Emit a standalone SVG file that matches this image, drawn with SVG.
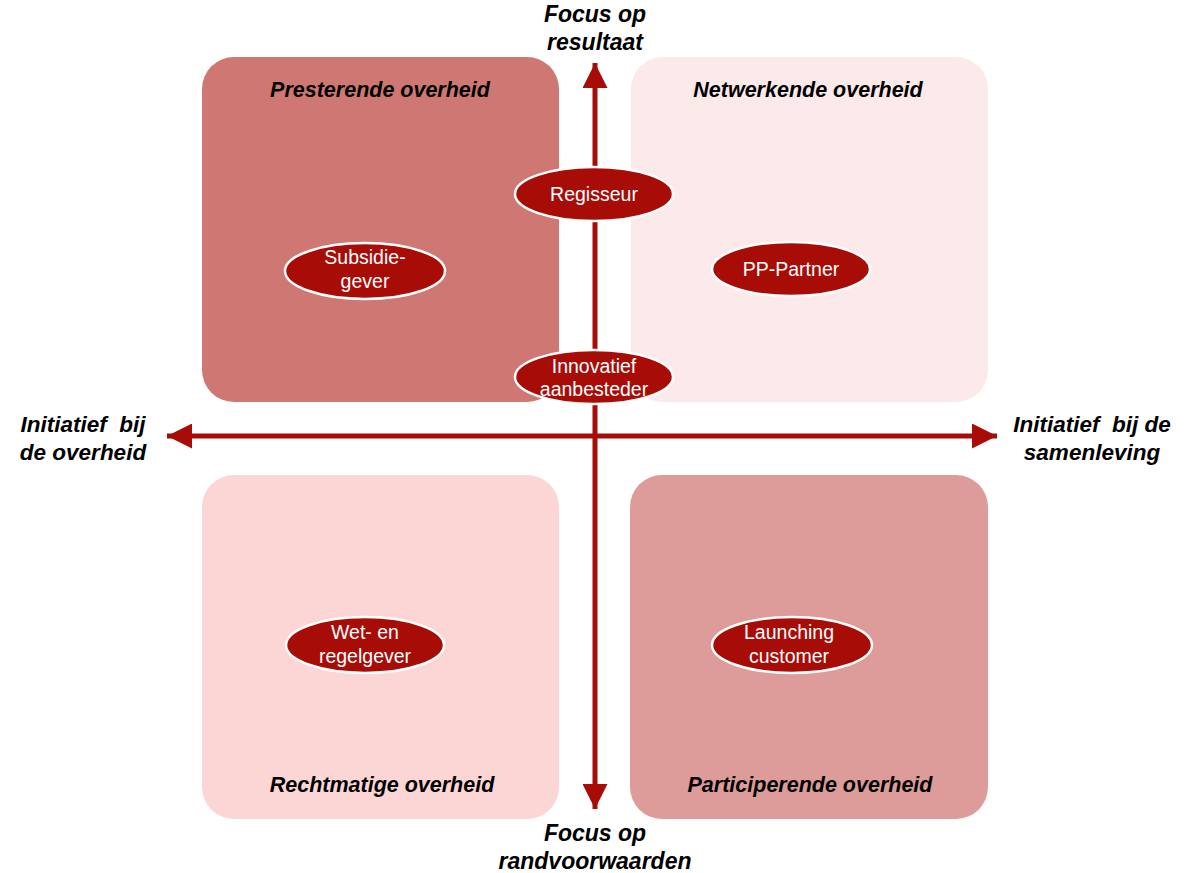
<svg xmlns="http://www.w3.org/2000/svg" width="1192" height="873" viewBox="0 0 1192 873">
  <style>
    .title { font-family: "Liberation Sans", Arial, sans-serif; font-weight: bold; font-style: italic; font-size: 21.5px; fill: #000; text-anchor: middle; }
    .axis-label { font-family: "Liberation Sans", Arial, sans-serif; font-weight: bold; font-style: italic; font-size: 23px; fill: #000; text-anchor: middle; }
    .side { font-size: 22.5px; }
    .role { fill: #A80C07; stroke: #fff; stroke-width: 2.5; }
    .role-text { font-family: "Liberation Sans", Arial, sans-serif; font-size: 19.5px; fill: #fff; text-anchor: middle; }
    .axis { stroke: #A80C07; stroke-width: 5; fill: none; }
  </style>
  <defs>
    <marker id="arrow" viewBox="0 0 10 10" refX="10" refY="5" markerWidth="5" markerHeight="5" markerUnits="strokeWidth" orient="auto">
      <path d="M0,0 L10,5 L0,10 Z" fill="#A80C07"/>
    </marker>
  </defs>
  <rect width="1192" height="873" fill="#fff"/>

  <!-- quadrants -->
  <g id="quadrant-presterend">
    <rect x="202" y="57" width="357" height="345" rx="32" fill="#CF7873"/>
    <text class="title" x="380" y="97">Presterende overheid</text>
  </g>
  <g id="quadrant-netwerkend">
    <rect x="631" y="57" width="357" height="345" rx="32" fill="#FCEAEA"/>
    <text class="title" x="808" y="97">Netwerkende overheid</text>
  </g>
  <g id="quadrant-rechtmatig">
    <rect x="202" y="475" width="357" height="344" rx="32" fill="#FCD5D5"/>
    <text class="title" x="382" y="792">Rechtmatige overheid</text>
  </g>
  <g id="quadrant-participerend">
    <rect x="630" y="475" width="358" height="344" rx="32" fill="#DD9C9A"/>
    <text class="title" x="810" y="792">Participerende overheid</text>
  </g>

  <!-- axes -->
  <g id="connectors">
    <line class="axis" x1="595" y1="436" x2="595" y2="63" marker-end="url(#arrow)"/>
    <line class="axis" x1="595" y1="436" x2="595" y2="809" marker-end="url(#arrow)"/>
    <line class="axis" x1="595" y1="436" x2="167" y2="436" marker-end="url(#arrow)"/>
    <line class="axis" x1="595" y1="436" x2="997" y2="436" marker-end="url(#arrow)"/>
  </g>

  <!-- axis labels -->
  <g id="label-top">
    <text class="axis-label" x="595" y="22">Focus op</text>
    <text class="axis-label" x="595" y="50">resultaat</text>
  </g>
  <g id="label-bottom">
    <text class="axis-label" x="595" y="841">Focus op</text>
    <text class="axis-label" x="595" y="869">randvoorwaarden</text>
  </g>
  <g id="label-left">
    <text class="axis-label side" x="83" y="432" xml:space="preserve">Initiatief  bij</text>
    <text class="axis-label side" x="83" y="460">de overheid</text>
  </g>
  <g id="label-right">
    <text class="axis-label side" x="1092" y="432" xml:space="preserve">Initiatief  bij de</text>
    <text class="axis-label side" x="1092" y="460">samenleving</text>
  </g>

  <!-- roles -->
  <g id="role-regisseur">
    <ellipse class="role" cx="594" cy="194" rx="79" ry="27"/>
    <text class="role-text" x="594" y="201">Regisseur</text>
  </g>
  <g id="role-innovatief">
    <ellipse class="role" cx="594" cy="377" rx="79" ry="27"/>
    <text class="role-text" x="594" y="373">Innovatief</text>
    <text class="role-text" x="594" y="396">aanbesteder</text>
  </g>
  <g id="role-subsidiegever">
    <ellipse class="role" cx="365" cy="271" rx="80" ry="28"/>
    <text class="role-text" x="365" y="264">Subsidie-</text>
    <text class="role-text" x="365" y="288">gever</text>
  </g>
  <g id="role-pppartner">
    <ellipse class="role" cx="791" cy="269" rx="79" ry="27"/>
    <text class="role-text" x="791" y="276">PP-Partner</text>
  </g>
  <g id="role-regelgever">
    <ellipse class="role" cx="365" cy="645" rx="79" ry="28"/>
    <text class="role-text" x="365" y="639">Wet- en</text>
    <text class="role-text" x="365" y="663">regelgever</text>
  </g>
  <g id="role-launching">
    <ellipse class="role" cx="792" cy="645" rx="80" ry="28"/>
    <text class="role-text" x="789" y="639">Launching</text>
    <text class="role-text" x="789" y="663">customer</text>
  </g>
</svg>
